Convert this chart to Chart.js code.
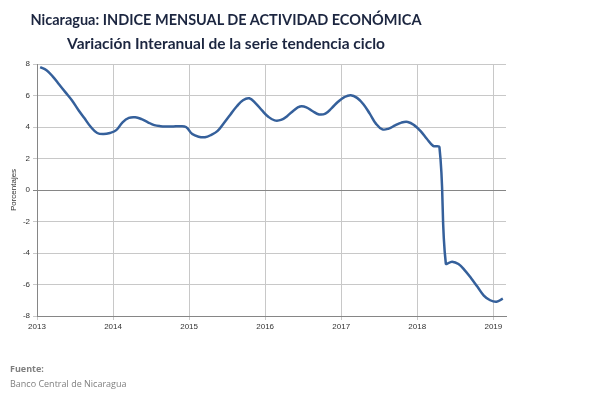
<!DOCTYPE html>
<html>
<head>
<meta charset="utf-8">
<script src="https://cdn.jsdelivr.net/npm/chart.js@4/dist/chart.umd.min.js"></script>
<style>
  body { margin:0; background:#fff; width:589px; height:394px; overflow:hidden; position:relative; }
  #wrap { position:absolute; left:0; top:0; width:589px; height:394px; }
  .title { position:absolute; left:0; width:452px; text-align:center; color:#1c2640; font-family:"Lato", sans-serif; font-weight:bold; white-space:nowrap; }
  #t1 { top:11px; font-size:14.5px; }
  #t2 { top:34px; font-size:15.5px; }
  .src { position:absolute; left:10px; color:#7f7f7f; font-family:"Open Sans", sans-serif; font-size:9px; }
</style>
</head>
<body>
<div id="wrap"><canvas id="chart1" width="589" height="394"></canvas></div>
<div class="title" id="t1">Nicaragua: INDICE MENSUAL DE ACTIVIDAD ECONÓMICA</div>
<div class="title" id="t2">Variación Interanual de la serie tendencia ciclo</div>
<div class="src" style="top:362px;font-weight:bold">Fuente:</div>
<div class="src" style="top:377px">Banco Central de Nicaragua</div>
<script>
// variacion interanual mensual, ene 2013 - feb 2019
let variacion=[
  7.8, 7.6, 7.2, 6.7, 6.2, 5.7, 5.1, 4.55, 4.0, 3.62, 3.55, 3.62,
  3.8, 4.3, 4.58, 4.62, 4.5, 4.3, 4.12, 4.05, 4.03, 4.03, 4.05, 4.0,
  3.55, 3.38, 3.35, 3.5, 3.75, 4.25, 4.78, 5.3, 5.7, 5.82, 5.5, 5.05,
  4.65, 4.42, 4.45, 4.7, 5.05, 5.3, 5.25, 5.0, 4.8, 4.85, 5.2, 5.6,
  5.9, 6.02, 5.85, 5.45, 4.85, 4.2, 3.85, 3.9, 4.1, 4.28, 4.32, 4.12,
  3.75, 3.25, 2.8, 2.7, -4.65, -4.55, -4.7, -5.1, -5.6, -6.15, -6.7, -7.0,
  -7.1, -6.9
]
let years=['2013','2014','2015','2016','2017','2018','2019']

const ctx = document.getElementById('chart1').getContext('2d');
new Chart(ctx, {
    type: 'line',
    data: {
        datasets: [{
            data: variacion.map((v, i) => ({ x: i + 0.5, y: v })),
            borderColor: '#35609b',
            borderWidth: 2.5,
            pointRadius: 0,
            tension: 0.4,
            fill: false
        }]
    },
    options: {
        responsive: false,
        animation: false,
        layout: { padding: { left: 0, right: 83, top: 64, bottom: 0 } },
        plugins: { legend: { display: false }, tooltip: { enabled: false } },
        scales: {
            x: {
                type: 'linear',
                min: 0,
                max: 74,
                // one tick per year (january)
                afterBuildTicks: s => { s.ticks = years.map((y, i) => ({ value: i * 12 })); },
                afterFit: s => { s.height = 78; },
                ticks: {
                    autoSkip: false,
                    maxRotation: 0,
                    padding: 2,
                    color: '#333',
                    font: { family: 'Liberation Sans', size: 8 },
                    callback: v => years[Math.round(v / 12)]
                },
                grid: { color: '#c8c8c8', tickLength: 4 },
                border: { color: '#868686' }
            },
            y: {
                min: -8,
                max: 8,
                afterFit: s => { s.width = 37; },
                ticks: {
                    stepSize: 2,
                    padding: 3,
                    color: '#333',
                    font: { family: 'Liberation Sans', size: 8 }
                },
                grid: {
                    color: c => c.tick && c.tick.value === 0 ? '#868686' : '#c8c8c8',
                    tickLength: 4
                },
                border: { color: '#868686' },
                title: {
                    display: true,
                    text: 'Porcentajes',
                    color: '#333',
                    padding: { top: 9, bottom: 0 },
                    font: { family: 'Liberation Sans', size: 8 }
                }
            }
        }
    }
});
</script>
</body>
</html>
